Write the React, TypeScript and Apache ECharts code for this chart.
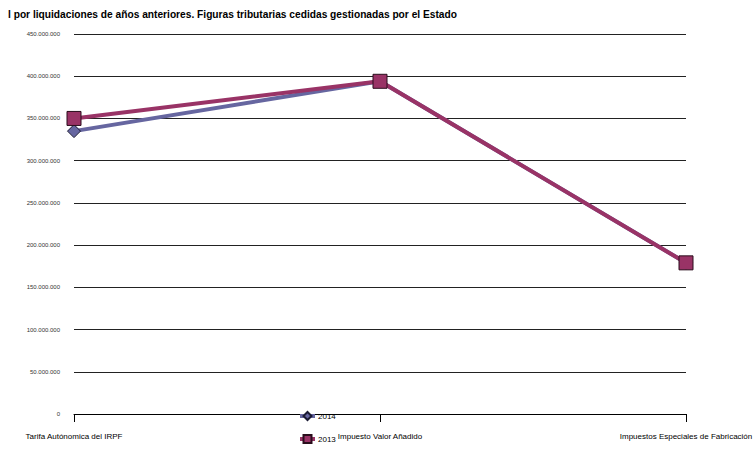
import React, { useEffect, useRef } from "react";
import * as echarts from "echarts";

const categories = [
  "Tarifa Autónomica del IRPF",
  "Impuesto Valor Añadido",
  "Impuestos Especiales de Fabricación",
];
const values2014 = [335000000, 394000000, 179000000];
const values2013 = [350000000, 394000000, 179000000];
const yTicks = { min: 0, max: 450000000, interval: 50000000 };

const fmt = (v: number) =>
  String(Math.round(v)).replace(/\B(?=(\d{3})+(?!\d))/g, ".");

export default function App() {
  const ref = useRef<HTMLDivElement>(null);
  useEffect(() => {
    const chart = echarts.init(ref.current!, null, { renderer: "svg" });
    const font = "Liberation Sans, Arial, sans-serif";
    chart.setOption({
      animation: false,
      textStyle: { fontFamily: font },
      title: {
        text: "l por liquidaciones de años anteriores. Figuras tributarias cedidas gestionadas por el Estado",
        left: 3,
        top: 4,
        textStyle: { fontSize: 10.2, fontWeight: "bold", color: "#000", fontFamily: font },
      },
      legend: {
        orient: "vertical",
        left: 293,
        top: 406,
        itemGap: 13,
        itemWidth: 15,
        itemHeight: 10,
        lineStyle: { width: 4 },
        textStyle: { fontSize: 8, color: "#000", fontFamily: font, padding: [7, 0, 0, -2] },
        data: ["2014", "2013"],
      },
      grid: { left: 74, right: 70, top: 34, bottom: 37, containLabel: false },
      xAxis: {
        type: "category",
        data: categories,
        boundaryGap: false,
        axisLine: { lineStyle: { color: "#000", width: 1 } },
        axisTick: { show: true, length: 8, lineStyle: { color: "#000" } },
        axisLabel: { fontSize: 8, color: "#000", margin: 18, fontFamily: font },
      },
      yAxis: {
        type: "value",
        min: yTicks.min,
        max: yTicks.max,
        interval: yTicks.interval,
        axisLine: { show: false },
        axisTick: { show: false },
        axisLabel: {
          fontSize: 6,
          color: "#333",
          margin: 14,
          fontFamily: font,
          formatter: (v: number) => fmt(v),
        },
        splitLine: { lineStyle: { color: "#222", width: 1 } },
      },
      series: [
        {
          name: "2014",
          type: "line",
          data: values2014,
          symbol: "diamond",
          symbolSize: 13,
          lineStyle: { color: "#6666a0", width: 4 },
          itemStyle: { color: "#6666a0", borderColor: "#1a1a33", borderWidth: 1 },
          z: 2,
        },
        {
          name: "2013",
          type: "line",
          data: values2013,
          symbol: "rect",
          symbolSize: 14,
          lineStyle: { color: "#993366", width: 4 },
          itemStyle: { color: "#993366", borderColor: "#2a0d1c", borderWidth: 1 },
          z: 3,
        },
      ],
    });
    return () => chart.dispose();
  }, []);
  return <div ref={ref} style={{ width: 756, height: 451, position: "absolute", left: 0, top: 0 }} />;
}
